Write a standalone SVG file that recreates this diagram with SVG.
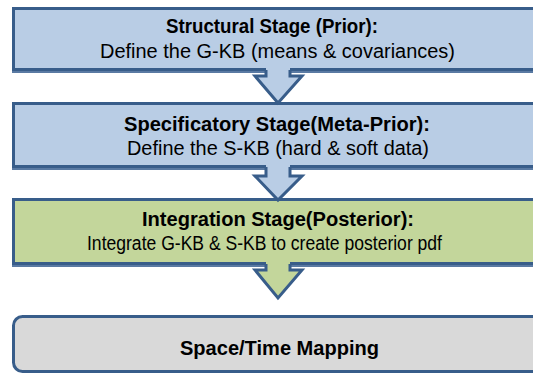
<svg xmlns="http://www.w3.org/2000/svg" width="533" height="373" viewBox="0 0 533 373">
<defs>
<style>
.box{stroke:#385d8a;stroke-width:3}
.shadow{fill:#5a7aa3}
.blue{fill:#b9cde5}
.green{fill:#c3d69b}
.gray{fill:#d9d9d9}
.arrowfill{stroke:none}
.arrowline{fill:none;stroke:#385d8a;stroke-width:3;stroke-linejoin:miter}
text{font-family:"Liberation Sans",Arial,sans-serif;font-size:19.5px;fill:#000}
.b{font-weight:bold}
</style>
</defs>
<rect width="533" height="373" fill="#ffffff"/>
<g id="structural">
<rect class="shadow" x="12" y="11" width="560" height="62"/>
<rect class="box blue" x="13.5" y="8.5" width="560" height="61"/>
<text class="b" x="166" y="33" textLength="212" lengthAdjust="spacingAndGlyphs">Structural Stage (Prior):</text>
<text x="100" y="57.5" textLength="355" lengthAdjust="spacingAndGlyphs">Define the G-KB (means &amp; covariances)</text>
</g>
<g id="specificatory">
<rect class="shadow" x="12" y="106" width="560" height="64"/>
<rect class="box blue" x="13.5" y="103.5" width="560" height="63"/>
<text class="b" x="124" y="130.5" textLength="306" lengthAdjust="spacingAndGlyphs">Specificatory Stage(Meta-Prior):</text>
<text x="127" y="155" textLength="302" lengthAdjust="spacingAndGlyphs">Define the S-KB (hard &amp; soft data)</text>
</g>
<g id="integration">
<rect class="shadow" x="12" y="202" width="560" height="65"/>
<rect class="box green" x="13.5" y="199.5" width="560" height="64"/>
<text class="b" x="142" y="226" textLength="272" lengthAdjust="spacingAndGlyphs">Integration Stage(Posterior):</text>
<text x="87" y="249.5" textLength="355" lengthAdjust="spacingAndGlyphs">Integrate G-KB &amp; S-KB to create posterior pdf</text>
</g>
<g id="mapping">
<rect class="box gray" x="13.5" y="316.5" width="560" height="55" rx="9"/>
<text class="b" x="180" y="355" textLength="199" lengthAdjust="spacingAndGlyphs">Space/Time Mapping</text>
</g>
<g id="connectors">
<path class="blue arrowfill" d="M266,66 L266,76 L255,76 L278,103 L302,76 L290,76 L290,66 Z"/>
<path class="arrowline" d="M266,70 L266,76 L255,76 L278,103 L302,76 L290,76 L290,70"/>
<path class="blue arrowfill" d="M266,163 L266,176 L255,176 L278,200 L302,176 L290,176 L290,163 Z"/>
<path class="arrowline" d="M266,167 L266,176 L255,176 L278,200 L302,176 L290,176 L290,167"/>
<path class="green arrowfill" d="M266,260 L266,270 L255,270 L278,298 L302,270 L290,270 L290,260 Z"/>
<path class="arrowline" d="M266,264 L266,270 L255,270 L278,298 L302,270 L290,270 L290,264"/>
</g>
</svg>
